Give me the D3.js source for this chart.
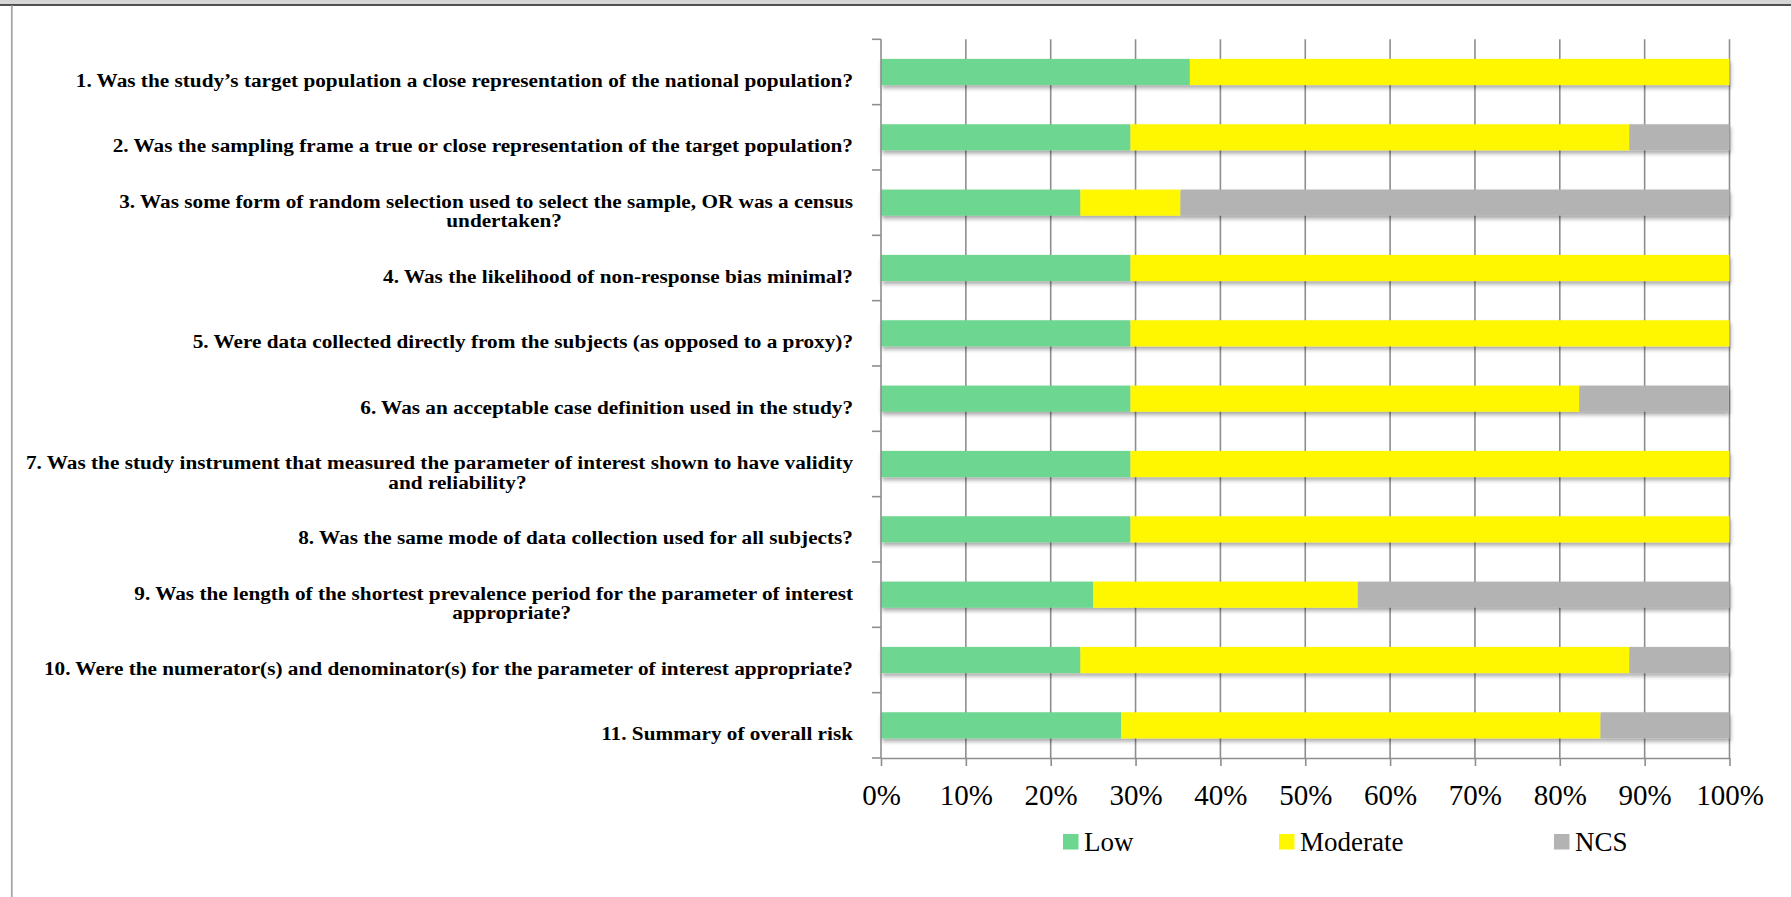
<!DOCTYPE html>
<html>
<head>
<meta charset="utf-8">
<script src="https://cdn.jsdelivr.net/npm/d3@7"></script>
<style>
  body { margin: 0; background: #fff; }
  svg { display: block; }
  text { font-family: "Liberation Serif", "Times New Roman", serif; }
</style>
</head>
<body>
<svg></svg>
<script>
const categories = [
  ["1. Was the study\u2019s target population a close representation of the national population?"],
  ["2. Was the sampling frame a true or close representation of the target population?"],
  ["3. Was some form of random selection used to select the sample, OR was a census", "undertaken?"],
  ["4. Was the likelihood of non-response bias minimal?"],
  ["5. Were data collected directly from the subjects (as opposed to a proxy)?"],
  ["6. Was an acceptable case definition used in the study?"],
  ["7. Was the study instrument that measured the parameter of interest shown to have validity", "and reliability?"],
  ["8. Was the same mode of data collection used for all subjects?"],
  ["9. Was the length of the shortest prevalence period for the parameter of interest", "appropriate?"],
  ["10. Were the numerator(s) and denominator(s) for the parameter of interest appropriate?"],
  ["11. Summary of overall risk"]
];
const low = [36.4, 29.4, 23.5, 29.4, 29.4, 29.4, 29.4, 29.4, 25.0, 23.5, 28.3];
const moderate = [63.6, 58.8, 11.8, 70.6, 70.6, 52.9, 70.6, 70.6, 31.2, 64.7, 56.5];
const ncs = [0, 11.8, 64.7, 0, 0, 17.6, 0, 0, 43.8, 11.8, 15.2];
const seriesNames = ["Low", "Moderate", "NCS"];
const xTicks = [0, 0.1, 0.2, 0.3, 0.4, 0.5, 0.6, 0.7, 0.8, 0.9, 1];

const width = 1791;
const height = 897;
const marginLeft = 881;
const marginRight = 61.5;
const marginTop = 39.3;
const marginBottom = 139;
const colors = ["#6dd690", "#fff700", "#b3b3b3"];
const gridColor = "#8e8e8e";

const svg = d3.select("svg").attr("width", width).attr("height", height);

// frame bits around the picture
svg.append("rect").attr("x", 0).attr("y", 0).attr("width", width).attr("height", 4.5).attr("fill", "#d6d6d6");
svg.append("line").attr("x1", 0).attr("x2", width).attr("y1", 5).attr("y2", 5).attr("stroke", "#1a1a1a").attr("stroke-width", 1.6);
svg.append("line").attr("x1", 11.8).attr("x2", 11.8).attr("y1", 5.5).attr("y2", height).attr("stroke", "#a8a8a8").attr("stroke-width", 1.8);

const defs = svg.append("defs");
defs.append("filter").attr("id", "shadow")
  .attr("x", "-5%").attr("y", "-30%").attr("width", "110%").attr("height", "180%")
  .append("feDropShadow")
  .attr("dx", 1).attr("dy", 3).attr("stdDeviation", 2)
  .attr("flood-color", "#000").attr("flood-opacity", 0.35);

const table = categories.map((c, i) => ({ i, Low: low[i], Moderate: moderate[i], NCS: ncs[i] }));
const stacked = d3.stack().keys(seriesNames)(table);

const x = d3.scaleLinear([0, 100], [marginLeft, width - marginRight]);
const y = d3.scaleBand(categories.map((_, i) => i), [marginTop, height - marginBottom])
  .paddingInner(0.6)
  .paddingOuter(0.3);
const yEdges = d3.scaleBand(categories.map((_, i) => i), [marginTop, height - marginBottom]);

// gridlines
svg.append("g")
  .selectAll("line")
  .data(xTicks.slice(1))
  .join("line")
  .attr("x1", (d) => x(d * 100))
  .attr("x2", (d) => x(d * 100))
  .attr("y1", marginTop)
  .attr("y2", height - marginBottom)
  .attr("stroke", gridColor)
  .attr("stroke-width", 1.6);

// bars
svg.append("g")
  .attr("filter", "url(#shadow)")
  .selectAll("g")
  .data(stacked)
  .join("g")
  .attr("fill", (_, k) => colors[k])
  .selectAll("rect")
  .data((d) => d)
  .join("rect")
  .attr("x", (d) => x(d[0]))
  .attr("y", (d) => y(d.data.i))
  .attr("width", (d) => x(d[1]) - x(d[0]))
  .attr("height", y.bandwidth());

// left axis with ticks at category edges
const leftAxis = svg.append("g");
leftAxis.append("line")
  .attr("x1", marginLeft).attr("x2", marginLeft)
  .attr("y1", marginTop).attr("y2", height - marginBottom)
  .attr("stroke", gridColor).attr("stroke-width", 1.6);
leftAxis.selectAll(".edge")
  .data(d3.range(categories.length + 1))
  .join("line")
  .attr("class", "edge")
  .attr("x1", marginLeft - 9).attr("x2", marginLeft)
  .attr("y1", (i) => marginTop + i * yEdges.step())
  .attr("y2", (i) => marginTop + i * yEdges.step())
  .attr("stroke", gridColor).attr("stroke-width", 1.6);

// bottom axis
const xAxis = svg.append("g")
  .attr("transform", `translate(0,${height - marginBottom})`)
  .call(d3.axisBottom(x).tickValues(xTicks.map((d) => d * 100)).tickSize(8).tickSizeOuter(0)
    .tickFormat((d) => d3.format(".0%")(d / 100)));
xAxis.select(".domain").attr("stroke", gridColor).attr("stroke-width", 1.6);
xAxis.selectAll(".tick line").attr("stroke", gridColor).attr("stroke-width", 1.6);
xAxis.selectAll(".tick text")
  .attr("y", 47).attr("dy", null)
  .attr("fill", "#000")
  .style("font-family", "'Liberation Serif', serif")
  .style("font-size", "29px");

// category labels (stretched a bit sideways to match the wider original face)
const labelRight = 853;
const lineGap = 19.5;
const stretch = 1.09;
const labels = svg.append("g")
  .style("font-size", "19.5px")
  .style("font-weight", "bold")
  .attr("fill", "#000");
categories.forEach((lines, i) => {
  const cy = y(i) + y.bandwidth() / 2 + 15 - (lines.length - 1) * lineGap / 2;
  const first = labels.append("text")
    .attr("transform", `translate(${labelRight},${cy}) scale(${stretch},1)`)
    .attr("text-anchor", "end")
    .text(lines[0]);
  if (lines.length > 1) {
    const w = first.node().getComputedTextLength() * stretch;
    labels.append("text")
      .attr("transform", `translate(${labelRight - w / 2 + 18},${cy + lineGap}) scale(${stretch},1)`)
      .attr("text-anchor", "middle")
      .text(lines[1]);
  }
});

// legend
const legendX = [1063, 1279, 1554];
const legend = svg.append("g")
  .selectAll("g")
  .data(seriesNames)
  .join("g")
  .attr("transform", (_, k) => `translate(${legendX[k]},834)`);
legend.append("rect").attr("width", 15.5).attr("height", 15.5).attr("fill", (_, k) => colors[k]);
legend.append("text")
  .attr("x", 21).attr("y", 17)
  .style("font-size", "27px")
  .text((d) => d);
</script>
</body>
</html>
